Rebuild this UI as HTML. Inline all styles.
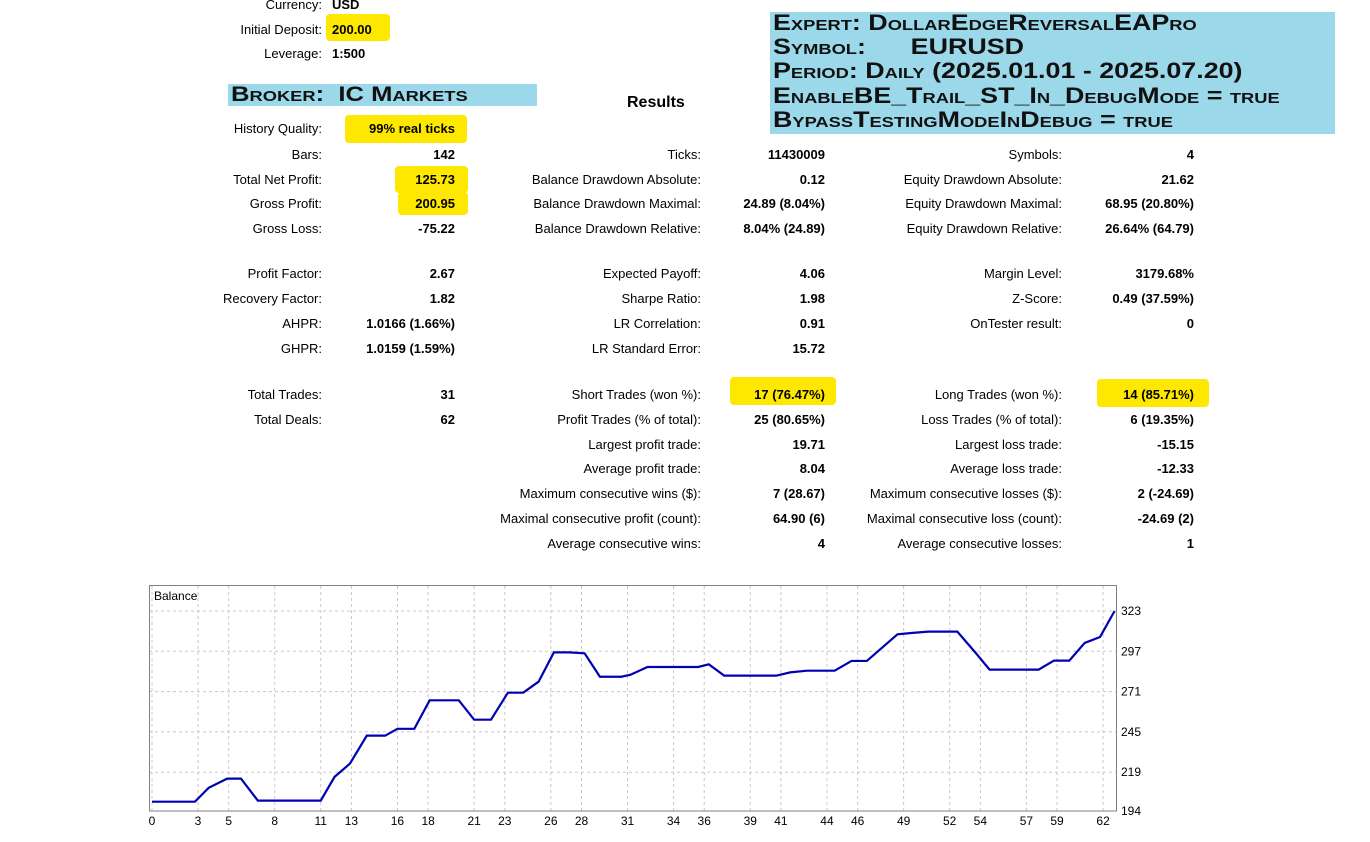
<!DOCTYPE html>
<html><head><meta charset="utf-8"><style>
body{margin:0;width:1370px;height:842px;background:#fff;position:relative;overflow:hidden;font-family:"Liberation Sans","DejaVu Sans",sans-serif;font-size:13px;color:#000}
.t{position:absolute;white-space:nowrap;line-height:16px}
.l{text-align:right}
.v{text-align:right;font-weight:bold}
.hl{position:absolute;background:#ffe800;border-radius:4px}
.box{position:absolute;background:#9bd8ea}
.sc{font-variant:small-caps;font-weight:bold;white-space:nowrap;position:absolute;color:#111;transform:scaleX(1.22);transform-origin:0 0}
</style></head><body>
<div class="hl" style="left:326px;top:14px;width:64px;height:27px"></div>
<div class="hl" style="left:345px;top:115px;width:122px;height:28px"></div>
<div class="hl" style="left:395px;top:166px;width:73px;height:27px"></div>
<div class="hl" style="left:398px;top:192px;width:70px;height:23px"></div>
<div class="hl" style="left:730px;top:377px;width:106px;height:28px"></div>
<div class="hl" style="left:1097px;top:379px;width:112px;height:28px"></div>

<div class="box" style="left:228px;top:84px;width:309px;height:22px"></div>
<div class="sc" style="left:231px;top:83px;font-size:21px;line-height:24px">Broker:&nbsp; IC Markets</div>
<div class="box" style="left:770px;top:12px;width:565px;height:122px"></div>
<div class="sc" style="left:773px;top:11px;font-size:22px;line-height:24.2px">Expert: DollarEdgeReversalEAPro<br>Symbol:&nbsp;&nbsp;&nbsp;&nbsp;&nbsp; EURUSD<br>Period: Daily (2025.01.01 - 2025.07.20)<br>EnableBE_Trail_ST_In_DebugMode = true<br>BypassTestingModeInDebug = true</div>
<div class="t" style="left:627px;top:94px;font-size:16px;font-weight:bold;line-height:18px">Results</div>

<div id="tbl"></div>

<svg id="chart" width="1370" height="842" style="position:absolute;left:0;top:0" xmlns="http://www.w3.org/2000/svg"></svg>

<script>
const idx=[0,2.8,3.7,4.9,5.8,6.9,11.0,11.9,12.9,14.0,15.2,16.0,17.1,18.1,20.0,21.0,22.1,23.2,24.2,25.2,26.2,27.2,28.2,29.2,30.6,31.2,32.3,35.6,36.3,37.3,40.7,41.6,42.7,44.5,45.6,46.6,48.6,49.5,50.6,52.5,53.7,54.6,57.8,58.8,59.8,60.8,61.8,62.75];
const balance=[200,200,209,214.9,214.9,200.7,200.7,216,224.5,242.6,242.6,247,247,265.4,265.4,252.9,252.9,270.3,270.3,277.4,296.3,296.3,295.7,280.6,280.6,281.9,286.9,286.9,288.6,281.3,281.3,283.4,284.5,284.5,290.8,290.8,308,308.8,309.7,309.7,295.9,285.2,285.2,291,291,302.4,306.2,323];
const yTicks=[194,219,245,271,297,323];
const xTicks=[0,3,5,8,11,13,16,18,21,23,26,28,31,34,36,39,41,44,46,49,52,54,57,59,62];

const rows=[
 ["Currency:","USD",322,332,5,1],["Initial Deposit:","200.00",322,332,30,1],["Leverage:","1:500",322,332,54,1],
 ["History Quality:","99% real ticks",322,455,129,0],["Bars:","142",322,455,155,0],["Total Net Profit:","125.73",322,455,180,0],["Gross Profit:","200.95",322,455,204,0],["Gross Loss:","-75.22",322,455,229,0],
 ["Profit Factor:","2.67",322,455,274,0],["Recovery Factor:","1.82",322,455,299,0],["AHPR:","1.0166 (1.66%)",322,455,324,0],["GHPR:","1.0159 (1.59%)",322,455,349,0],
 ["Total Trades:","31",322,455,395,0],["Total Deals:","62",322,455,420,0],
 ["Ticks:","11430009",701,825,155,0],["Balance Drawdown Absolute:","0.12",701,825,180,0],["Balance Drawdown Maximal:","24.89 (8.04%)",701,825,204,0],["Balance Drawdown Relative:","8.04% (24.89)",701,825,229,0],
 ["Expected Payoff:","4.06",701,825,274,0],["Sharpe Ratio:","1.98",701,825,299,0],["LR Correlation:","0.91",701,825,324,0],["LR Standard Error:","15.72",701,825,349,0],
 ["Short Trades (won %):","17 (76.47%)",701,825,395,0],["Profit Trades (% of total):","25 (80.65%)",701,825,420,0],["Largest profit trade:","19.71",701,825,445,0],["Average profit trade:","8.04",701,825,469,0],["Maximum consecutive wins ($):","7 (28.67)",701,825,494,0],["Maximal consecutive profit (count):","64.90 (6)",701,825,519,0],["Average consecutive wins:","4",701,825,544,0],
 ["Symbols:","4",1062,1194,155,0],["Equity Drawdown Absolute:","21.62",1062,1194,180,0],["Equity Drawdown Maximal:","68.95 (20.80%)",1062,1194,204,0],["Equity Drawdown Relative:","26.64% (64.79)",1062,1194,229,0],
 ["Margin Level:","3179.68%",1062,1194,274,0],["Z-Score:","0.49 (37.59%)",1062,1194,299,0],["OnTester result:","0",1062,1194,324,0],
 ["Long Trades (won %):","14 (85.71%)",1062,1194,395,0],["Loss Trades (% of total):","6 (19.35%)",1062,1194,420,0],["Largest loss trade:","-15.15",1062,1194,445,0],["Average loss trade:","-12.33",1062,1194,469,0],["Maximum consecutive losses ($):","2 (-24.69)",1062,1194,494,0],["Maximal consecutive loss (count):","-24.69 (2)",1062,1194,519,0],["Average consecutive losses:","1",1062,1194,544,0]
];
const tbl=document.getElementById('tbl');
rows.forEach(r=>{
 const a=document.createElement('div');a.className='t l';
 
 
 a.style.cssText=`right:${1370-r[2]}px;top:${r[4]-8}px`;a.textContent=r[0];tbl.appendChild(a);
 const b=document.createElement('div');b.className='t v';
 
 
 if(r[5]) b.style.cssText=`left:${r[3]}px;top:${r[4]-8}px;text-align:left`;
 else b.style.cssText=`right:${1370-r[3]}px;top:${r[4]-8}px`;
 b.textContent=r[1];tbl.appendChild(b);
});

const svg=document.getElementById('chart');const NS='http://www.w3.org/2000/svg';
const X0=152,XS=15.34,Y0=811,YS=200/129;
const xs=i=>X0+i*XS, ys=v=>Y0-(v-194)*YS;
function mk(t,at){const e=document.createElementNS(NS,t);for(const k in at)e.setAttribute(k,at[k]);svg.appendChild(e);return e;}
yTicks.forEach(v=>{
 if(v>194){const g=mk('line',{x1:149,x2:1117,y1:ys(v),y2:ys(v),stroke:'#c8c8c8','stroke-dasharray':'3,3'});
 
 }
 const t=mk('text',{x:1121,y:ys(v)+4,'font-size':12,'font-family':'Liberation Sans, sans-serif'});t.textContent=v;
 
 
});
xTicks.forEach(v=>{
 const g=mk('line',{x1:xs(v),x2:xs(v),y1:586,y2:811,stroke:'#c8c8c8','stroke-dasharray':'3,3'});
 
 
 const t=mk('text',{x:xs(v),y:825,'font-size':12,'text-anchor':'middle','font-family':'Liberation Sans, sans-serif'});t.textContent=v;
 
 
});
const fr=mk('rect',{x:149.5,y:585.5,width:967,height:225.5,fill:'none',stroke:'#808080'});


const bt=mk('text',{x:154,y:600,'font-size':12,'font-family':'Liberation Sans, sans-serif'});bt.textContent='Balance';


const pl=mk('polyline',{points:idx.map((i,k)=>xs(i)+','+ys(balance[k])).join(' '),fill:'none',stroke:'#0000b4','stroke-width':2.2});


</script>
</body></html>
